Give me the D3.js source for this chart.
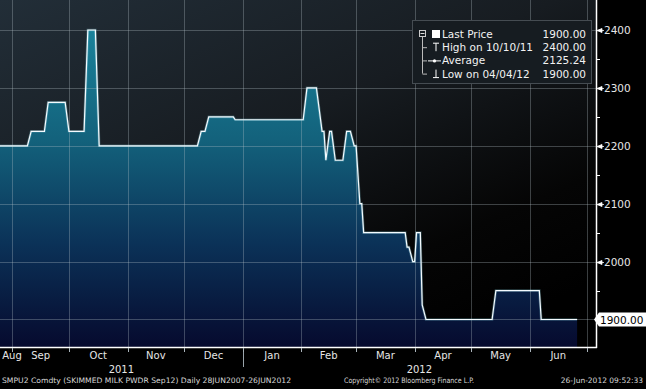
<!DOCTYPE html>
<html>
<head>
<meta charset="utf-8">
<script src="https://cdn.jsdelivr.net/npm/d3@7"></script>
<style>
  html, body { margin: 0; padding: 0; background: #000; }
  svg { display: block; }
  text { font-family: "DejaVu Sans", sans-serif; }
</style>
</head>
<body>
<div id="chart"></div>
<script>
// price steps (SMPU2 Comdty, daily)
const dates = [
  "2011-08-25", "2011-09-09", "2011-09-11", "2011-09-18", "2011-09-20", "2011-09-29",
  "2011-10-01", "2011-10-09", "2011-10-11", "2011-10-15", "2011-10-17", "2011-12-08",
  "2011-12-10", "2011-12-12", "2011-12-14", "2011-12-27", "2011-12-28", "2012-02-02",
  "2012-02-04", "2012-02-09", "2012-02-12", "2012-02-13", "2012-02-14", "2012-02-16",
  "2012-02-17", "2012-02-19", "2012-02-23", "2012-02-25", "2012-02-27", "2012-02-29",
  "2012-03-01", "2012-03-03", "2012-03-04", "2012-03-05", "2012-03-27", "2012-03-28",
  "2012-03-29", "2012-03-31", "2012-04-01", "2012-04-02", "2012-04-04", "2012-04-05",
  "2012-04-07", "2012-05-12", "2012-05-14", "2012-06-06", "2012-06-07", "2012-06-26"
];
const prices = [
  2200, 2200, 2225, 2225, 2275, 2275,
  2225, 2225, 2400, 2400, 2200, 2200,
  2225, 2225, 2250, 2250, 2245, 2245,
  2300, 2300, 2225, 2225, 2175, 2225,
  2225, 2175, 2175, 2225, 2225, 2200,
  2200, 2100, 2100, 2050, 2050, 2025,
  2025, 2000, 2000, 2050, 2050, 1925,
  1900, 1900, 1950, 1950, 1900, 1900
];
const yTicks = [1900, 2000, 2100, 2200, 2300, 2400];
const yMinor = [1950, 2050, 2150, 2250, 2350];
const legendLabels = ["Last Price", "High on 10/10/11", "Average", "Low on 04/04/12"];
const legendValues = ["1900.00", "2400.00", "2125.24", "1900.00"];
const lastPrice = "1900.00";
const years = ["2011", "2012"];
const footerLeft = "SMPU2 Comdty  (SKIMMED MILK PWDR Sep12)  Daily 28JUN2007-26JUN2012";
const footerMid = "Copyright\u00A9 2012 Bloomberg Finance L.P.";
const footerRight = "26-Jun-2012 09:52:33";

const width = 646, height = 389;
const plot = {left: 0, top: 0, right: 596, bottom: 347};

const parse = d3.timeParse("%Y-%m-%d");
const data = dates.map((d, i) => ({date: parse(d), v: prices[i]}));

const svg = d3.select("#chart").append("svg")
  .attr("width", width).attr("height", height);

const defs = svg.append("defs");
const bg = defs.append("linearGradient").attr("id", "bg")
  .attr("x1", 0).attr("y1", 0).attr("x2", 0.75).attr("y2", 1);
bg.append("stop").attr("offset", "0%").attr("stop-color", "#222e38");
bg.append("stop").attr("offset", "45%").attr("stop-color", "#171c21");
bg.append("stop").attr("offset", "80%").attr("stop-color", "#050505");
bg.append("stop").attr("offset", "100%").attr("stop-color", "#000");

const fill = defs.append("linearGradient").attr("id", "fill")
  .attr("gradientUnits", "userSpaceOnUse")
  .attr("x1", 0).attr("y1", 0).attr("x2", 0).attr("y2", plot.bottom);
fill.append("stop").attr("offset", "0%").attr("stop-color", "#1c8aa2");
fill.append("stop").attr("offset", "40%").attr("stop-color", "#13627c");
fill.append("stop").attr("offset", "70%").attr("stop-color", "#0b3258");
fill.append("stop").attr("offset", "100%").attr("stop-color", "#060a2e");

svg.append("rect").attr("x", plot.left).attr("y", plot.top)
  .attr("width", plot.right - plot.left).attr("height", plot.bottom - plot.top)
  .attr("fill", "url(#bg)");

const x = d3.scaleTime()
  .domain([new Date(2011, 7, 25, 12), new Date(2012, 6, 6)])
  .range([plot.left, plot.right]);
const y = d3.scaleLinear()
  .domain([1852.5, 2451.8])
  .range([plot.bottom, plot.top]);

const line = d3.line().x(d => Math.max(x(d.date), plot.left)).y(d => y(d.v));

// area
svg.append("path").datum(data)
  .attr("fill", "url(#fill)")
  .attr("d", d3.area().x(d => Math.max(x(d.date), plot.left)).y0(plot.bottom).y1(d => y(d.v)));

// grid over the area (faint, the screen's dotted look averages out to this)
const months = d3.timeMonth.range(new Date(2011, 8, 1), new Date(2012, 6, 2));
svg.append("g")
  .selectAll("line").data(months).join("line")
  .attr("x1", d => Math.round(x(d)) + 0.5).attr("x2", d => Math.round(x(d)) + 0.5)
  .attr("y1", plot.top).attr("y2", plot.bottom)
  .attr("stroke", "#b4c0c8").attr("stroke-opacity", 0.32);
svg.append("g")
  .selectAll("line").data(yTicks).join("line")
  .attr("x1", plot.left).attr("x2", plot.right)
  .attr("y1", d => Math.round(y(d)) + 0.5).attr("y2", d => Math.round(y(d)) + 0.5)
  .attr("stroke", "#b4c0c8").attr("stroke-opacity", 0.32);

svg.append("path").datum(data)
  .attr("fill", "none").attr("stroke", "#8fd6e6").attr("stroke-opacity", 0.3)
  .attr("stroke-width", 2.6).attr("d", line);
svg.append("path").datum(data)
  .attr("fill", "none").attr("stroke", "#f4fbff").attr("stroke-width", 1.2)
  .attr("d", line);

// axis frame
svg.append("line").attr("x1", plot.right + 0.5).attr("x2", plot.right + 0.5)
  .attr("y1", plot.top).attr("y2", plot.bottom + 1)
  .attr("stroke", "#fff").attr("stroke-width", 1.5);
svg.append("line").attr("x1", plot.left).attr("x2", plot.right + 1)
  .attr("y1", plot.bottom + 0.5).attr("y2", plot.bottom + 0.5)
  .attr("stroke", "#fff").attr("stroke-width", 1.5);

// right axis
const ra = svg.append("g");
ra.selectAll(".mk").data(yTicks.slice(1)).enter().append("path")
  .attr("d", d => {
    const yy = Math.round(y(d)) + 0.5;
    return `M${plot.right + 1},${yy} L${plot.right + 6},${yy - 2} L${plot.right + 6},${yy + 2} Z M${plot.right + 6},${yy} L${plot.right + 8},${yy}`;
  })
  .attr("fill", "#fff").attr("stroke", "#fff").attr("stroke-width", 0.8);
ra.selectAll(".minor").data(yMinor).enter().append("line")
  .attr("x1", plot.right).attr("x2", plot.right + 4)
  .attr("y1", d => Math.round(y(d)) + 0.5).attr("y2", d => Math.round(y(d)) + 0.5)
  .attr("stroke", "#fff");
ra.selectAll(".lbl").data(yTicks.slice(1)).enter().append("text")
  .attr("x", plot.right + 8).attr("y", d => y(d) + 4)
  .attr("font-size", 10.5).attr("fill", "#e6e6e6")
  .text(d => d);

// last price tag
const ly = Math.round(y(prices[prices.length - 1])) + 0.5;
svg.append("path")
  .attr("d", `M${plot.right - 2},${ly} L${plot.right + 3},${ly - 7} L${width},${ly - 7} L${width},${ly + 7} L${plot.right + 3},${ly + 7} Z`)
  .attr("fill", "#fff");
svg.append("text").attr("x", plot.right + 4).attr("y", ly + 4)
  .attr("font-size", 10.5).attr("fill", "#000").text(lastPrice);

// bottom axis ticks
svg.append("g")
  .selectAll("line").data(months).join("line")
  .attr("x1", d => Math.round(x(d)) + 0.5).attr("x2", d => Math.round(x(d)) + 0.5)
  .attr("y1", plot.bottom + 1).attr("y2", plot.bottom + 5)
  .attr("stroke", "#aab4bb");

// month labels centred in each month
const allMonths = d3.timeMonth.range(new Date(2011, 7, 1), new Date(2012, 6, 1));
svg.selectAll(".mon").data(allMonths).enter().append("text")
  .attr("x", d => {
    const a = Math.max(x(d), plot.left), b = Math.min(x(d3.timeMonth.offset(d, 1)), plot.right);
    return Math.max((a + b) / 2, 12);
  })
  .attr("y", 359)
  .attr("text-anchor", "middle")
  .attr("font-size", 10).attr("fill", "#e6e6e6")
  .text(d => d3.timeFormat("%b")(d));

// year labels and separator
const yearStart = new Date(2012, 0, 1);
svg.append("line")
  .attr("x1", Math.round(x(yearStart)) + 0.5).attr("x2", Math.round(x(yearStart)) + 0.5)
  .attr("y1", 352).attr("y2", 367).attr("stroke", "#9aa4ab");
svg.selectAll(".yr").data(years).enter().append("text")
  .attr("x", (d, i) => i === 0 ? (plot.left + x(yearStart)) / 2 : (x(yearStart) + plot.right) / 2)
  .attr("y", 373).attr("text-anchor", "middle")
  .attr("font-size", 10).attr("fill", "#e6e6e6")
  .text(d => d);

// legend
const lg = svg.append("g");
lg.append("rect").attr("x", 412.5).attr("y", 20.5).attr("width", 179).attr("height", 63)
  .attr("fill", "#161c21").attr("stroke", "#454c52");
const rowY = i => 34 + i * 13.2;
lg.append("line").attr("x1", 422.5).attr("x2", 422.5).attr("y1", rowY(0) + 3).attr("y2", rowY(3))
  .attr("stroke", "#bbb");
lg.selectAll(".br").data(legendLabels.slice(1)).enter().append("line")
  .attr("x1", 422.5).attr("x2", 427).attr("y1", (d, i) => rowY(i + 1) + 0.5).attr("y2", (d, i) => rowY(i + 1) + 0.5)
  .attr("stroke", "#bbb");
lg.append("rect").attr("x", 419.5).attr("y", rowY(0) - 3.5).attr("width", 6).attr("height", 6)
  .attr("fill", "#161c21").attr("stroke", "#ccc");
lg.append("line").attr("x1", 420.5).attr("x2", 424.5).attr("y1", rowY(0) - 0.5).attr("y2", rowY(0) - 0.5)
  .attr("stroke", "#ddd");
// markers
lg.append("rect").attr("x", 432).attr("y", rowY(0) - 4).attr("width", 8).attr("height", 8).attr("fill", "#fff");
lg.append("path").attr("d", `M433,${rowY(1) - 4} L439,${rowY(1) - 4} M436,${rowY(1) - 4} L436,${rowY(1) + 4}`)
  .attr("stroke", "#fff").attr("fill", "none");
lg.append("path").attr("d", `M428,${rowY(2) + 0.5} L441,${rowY(2) + 0.5}`).attr("stroke", "#fff");
lg.append("circle").attr("cx", 434.5).attr("cy", rowY(2) + 0.5).attr("r", 1.6).attr("fill", "#fff");
lg.append("path").attr("d", `M436,${rowY(3) - 4} L436,${rowY(3) + 4} M433,${rowY(3) + 4} L439,${rowY(3) + 4}`)
  .attr("stroke", "#fff").attr("fill", "none");
lg.selectAll(".ll").data(legendLabels).enter().append("text")
  .attr("x", 442).attr("y", (d, i) => rowY(i) + 4)
  .attr("font-size", 10.5).attr("fill", "#f2f2f2").text(d => d);
lg.selectAll(".lv").data(legendValues).enter().append("text")
  .attr("x", 586).attr("y", (d, i) => rowY(i) + 4).attr("text-anchor", "end")
  .attr("font-size", 10.5).attr("fill", "#f2f2f2").text(d => d);

// footer
svg.append("text").attr("x", 2).attr("y", 383).attr("font-size", 7.5).attr("fill", "#d8d8d8")
  .attr("textLength", 289).attr("lengthAdjust", "spacingAndGlyphs").text(footerLeft);
svg.append("text").attr("x", 344).attr("y", 383).attr("font-size", 7.5).attr("fill", "#d8d8d8")
  .attr("textLength", 130).attr("lengthAdjust", "spacingAndGlyphs").text(footerMid);
svg.append("text").attr("x", 643).attr("y", 383).attr("font-size", 7.5).attr("fill", "#d8d8d8")
  .attr("text-anchor", "end").text(footerRight);
</script>
</body>
</html>
